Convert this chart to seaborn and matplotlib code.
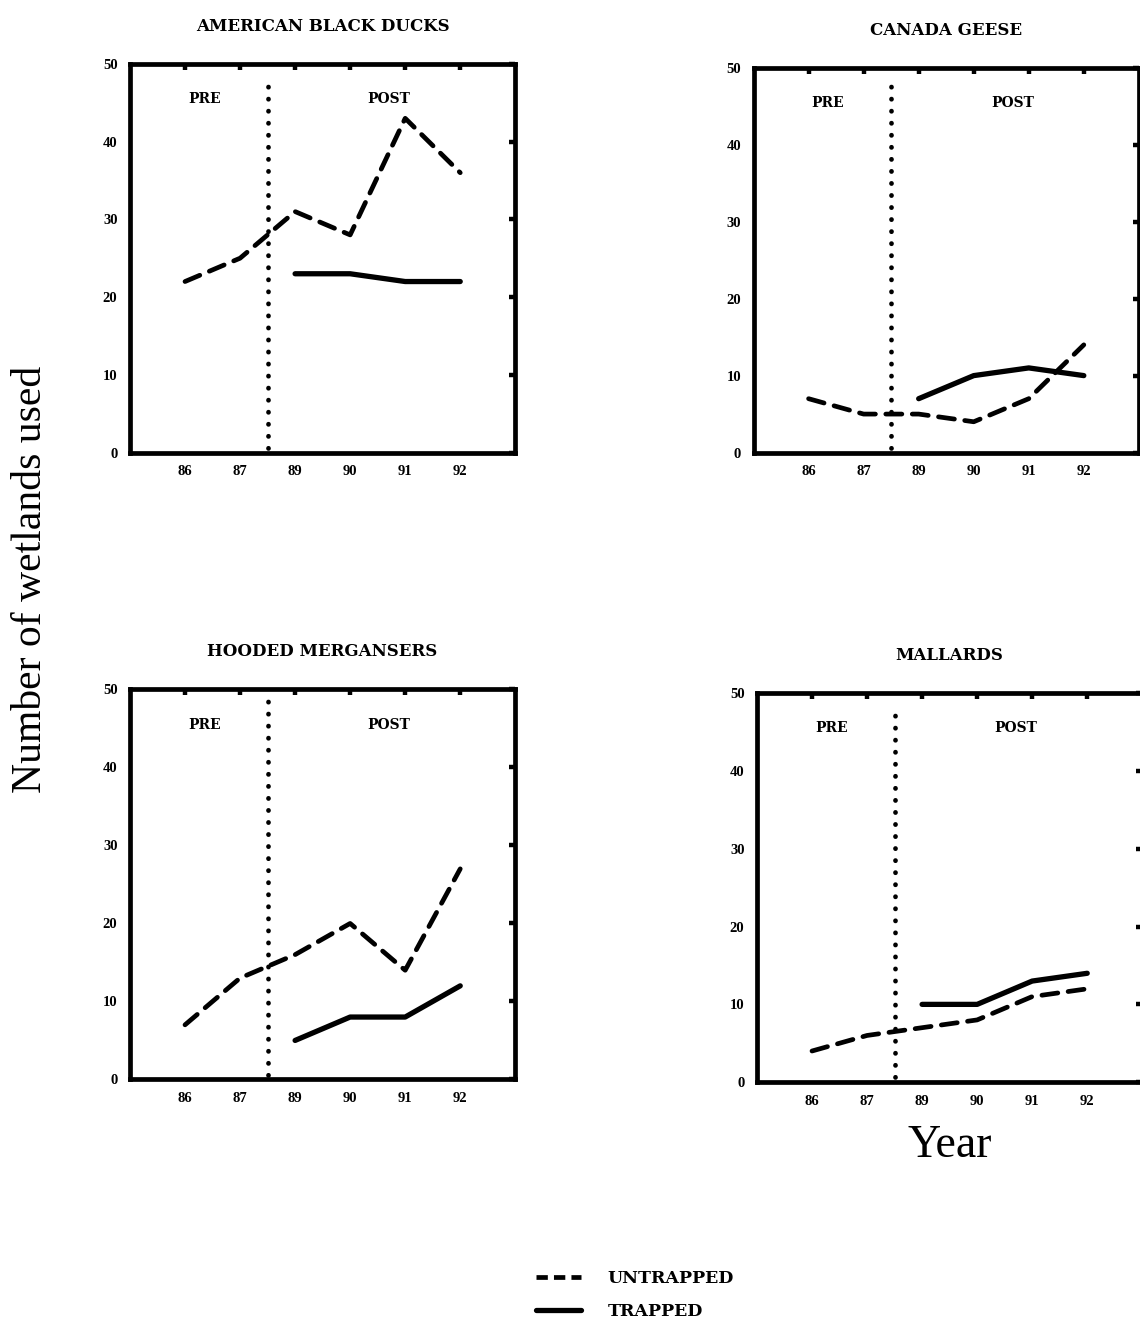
import pandas as pd
import matplotlib.pyplot as plt
from matplotlib.lines import Line2D
import seaborn as sns

# --- Data ---
YEARS = ["86", "87", "89", "90", "91", "92"]
POST_YEARS = ["89", "90", "91", "92"]

black_ducks_untrapped = [22, 25, 31, 28, 43, 36]
black_ducks_trapped = [23, 23, 22, 22]
geese_untrapped = [7, 5, 5, 4, 7, 14]
geese_trapped = [7, 10, 11, 10]
mergansers_untrapped = [7, 13, 16, 20, 14, 27]
mergansers_trapped = [5, 8, 8, 12]
mallards_untrapped = [4, 6, 7, 8, 11, 12]
mallards_trapped = [10, 10, 13, 14]

SPECIES = ["AMERICAN BLACK DUCKS", "CANADA GEESE", "HOODED MERGANSERS", "MALLARDS"]
UNTRAPPED = [black_ducks_untrapped, geese_untrapped, mergansers_untrapped, mallards_untrapped]
TRAPPED = [black_ducks_trapped, geese_trapped, mergansers_trapped, mallards_trapped]

# axes boxes in figure fractions [left, bottom, width, height]
BOXES = [
    [0.114, 0.660, 0.338, 0.292],
    [0.661, 0.660, 0.338, 0.289],
    [0.114, 0.189, 0.338, 0.293],
    [0.664, 0.187, 0.338, 0.292],
]

DASH = (0, (3.4, 2.2))
SERIF = "Liberation Serif"
WIDE = "DejaVu Serif"


def draw_panel(ax, title, untrapped, trapped):
    pos = {y: i for i, y in enumerate(YEARS)}
    df_u = pd.DataFrame({"x": [pos[y] for y in YEARS], "n": untrapped})
    df_t = pd.DataFrame({"x": [pos[y] for y in POST_YEARS], "n": trapped})

    sns.lineplot(data=df_u, x="x", y="n", ax=ax, color="black", lw=3.4,
                 linestyle=DASH)
    sns.lineplot(data=df_t, x="x", y="n", ax=ax, color="black", lw=3.8)
    for line in ax.lines:
        line.set_solid_capstyle("round")
        line.set_dash_capstyle("round")

    # pre / post split
    ax.plot([1.5, 1.5], [0.6, 48.5], color="black", lw=3.4,
            linestyle=(0, (0.05, 2.5)), dash_capstyle="round")
    ax.text(0.35, 45.5, "PRE", ha="center", va="center", fontsize=10,
            fontweight="bold", family=WIDE)
    ax.text(3.7, 45.5, "POST", ha="center", va="center", fontsize=10,
            fontweight="bold", family=WIDE)

    ax.set_xlim(-1, 6)
    ax.set_ylim(0, 50)
    ax.set_xticks(range(len(YEARS)))
    ax.set_xticklabels(YEARS)
    ax.set_yticks(range(0, 51, 10))
    ax.set_xlabel("")
    ax.set_ylabel("")
    ax.tick_params(direction="in", length=4, width=3.2, top=True, right=True,
                   labelsize=10.5, pad=9, colors="black")
    for lab in ax.get_xticklabels() + ax.get_yticklabels():
        lab.set_fontweight("bold")
        lab.set_family(SERIF)
    for sp in ax.spines.values():
        sp.set_linewidth(3.4)
        sp.set_edgecolor("black")
        sp.set_visible(True)
    ax.set_title(title, fontsize=12, fontweight="bold", family=WIDE, pad=24,
                 color="black")


sns.set_theme(style="white")
plt.rcParams["font.family"] = [SERIF, "DejaVu Serif"]
plt.rcParams["text.color"] = "black"

fig = plt.figure(figsize=(11.4, 13.31), dpi=100)
for box, name, u, t in zip(BOXES, SPECIES, UNTRAPPED, TRAPPED):
    ax = fig.add_axes(box)
    draw_panel(ax, name, u, t)

fig.text(0.027, 0.565, "Number of wetlands used", rotation=90, ha="center",
         va="center", fontsize=30, family=SERIF)
fig.text(0.833, 0.139, "Year", ha="center", va="center", fontsize=33,
         family=SERIF)

handles = [
    Line2D([0], [0], color="black", lw=3.4, linestyle=(0, (2.4, 1.3))),
    Line2D([0], [0], color="black", lw=3.8),
]
leg = fig.legend(handles, ["UNTRAPPED", "TRAPPED"], loc="center",
                 bbox_to_anchor=(0.557, 0.027), frameon=False,
                 handlelength=2.6, handletextpad=1.5, labelspacing=0.95,
                 prop={"family": WIDE, "weight": "bold", "size": 12.5})

fig.savefig("out.png", dpi=100)
